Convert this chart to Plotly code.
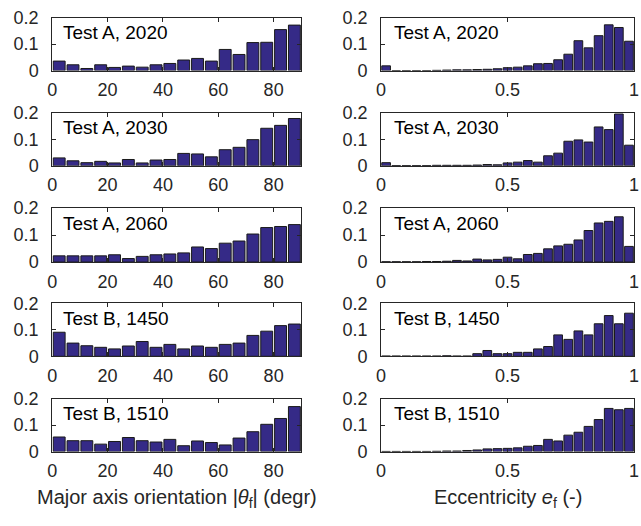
import numpy as np
import plotly.graph_objects as go
from plotly.subplots import make_subplots

# ---------------- data ----------------
panel_labels = ["Test A, 2020", "Test A, 2030", "Test A, 2060", "Test B, 1450", "Test B, 1510"]

orient_bin_edges = np.arange(0, 95, 5)          # 0..90 deg, 18 bins
ecc_bin_edges = np.linspace(0, 1, 26)           # 0..1, 25 bins

orient_a2020 = [0.036, 0.022, 0.008, 0.022, 0.012, 0.017, 0.013, 0.022, 0.027,
                0.040, 0.046, 0.036, 0.080, 0.061, 0.106, 0.107, 0.155, 0.172]
orient_a2030 = [0.030, 0.019, 0.012, 0.017, 0.011, 0.024, 0.011, 0.022, 0.024,
                0.047, 0.045, 0.034, 0.061, 0.070, 0.099, 0.142, 0.153, 0.179]
orient_a2060 = [0.023, 0.023, 0.023, 0.023, 0.027, 0.013, 0.021, 0.027, 0.030,
                0.034, 0.056, 0.050, 0.070, 0.078, 0.104, 0.128, 0.132, 0.139]
orient_b1450 = [0.091, 0.050, 0.040, 0.034, 0.028, 0.039, 0.056, 0.034, 0.045,
                0.028, 0.039, 0.034, 0.045, 0.050, 0.079, 0.095, 0.116, 0.122]
orient_b1510 = [0.055, 0.041, 0.041, 0.028, 0.038, 0.053, 0.041, 0.036, 0.046,
                0.022, 0.040, 0.034, 0.025, 0.051, 0.075, 0.103, 0.125, 0.170]

ecc_a2020 = [0.018, 0.000, 0.000, 0.000, 0.000, 0.001, 0.002, 0.003, 0.003, 0.004,
             0.005, 0.007, 0.011, 0.013, 0.018, 0.026, 0.027, 0.041, 0.062, 0.113,
             0.086, 0.132, 0.173, 0.163, 0.111]
ecc_a2030 = [0.012, 0.001, 0.001, 0.001, 0.001, 0.002, 0.002, 0.002, 0.002, 0.003,
             0.005, 0.004, 0.011, 0.014, 0.020, 0.014, 0.038, 0.048, 0.093, 0.098,
             0.090, 0.147, 0.137, 0.196, 0.078]
ecc_a2060 = [0.001, 0.001, 0.001, 0.001, 0.002, 0.002, 0.003, 0.006, 0.004, 0.011,
             0.008, 0.010, 0.018, 0.012, 0.028, 0.032, 0.049, 0.060, 0.066, 0.082,
             0.117, 0.145, 0.151, 0.168, 0.058]
ecc_b1450 = [0.001, 0.001, 0.001, 0.001, 0.001, 0.001, 0.002, 0.001, 0.001, 0.010,
             0.022, 0.010, 0.010, 0.015, 0.015, 0.028, 0.037, 0.081, 0.064, 0.096,
             0.081, 0.123, 0.154, 0.123, 0.163]
ecc_b1510 = [0.0005, 0.0005, 0.0005, 0.0005, 0.0005, 0.001, 0.002, 0.002, 0.004, 0.006,
             0.010, 0.011, 0.012, 0.014, 0.020, 0.023, 0.046, 0.040, 0.062, 0.073,
             0.095, 0.121, 0.163, 0.158, 0.163]

orient_series = [orient_a2020, orient_a2030, orient_a2060, orient_b1450, orient_b1510]
ecc_series = [ecc_a2020, ecc_a2030, ecc_a2060, ecc_b1450, ecc_b1510]

orient_ticks = [0, 20, 40, 60, 80]
ecc_ticks = [0, 0.5, 1]
ecc_ticktext = ["0", "0.5", "1"]
y_ticks = [0, 0.1, 0.2]
y_ticktext = ["0", "0.1", "0.2"]

left_title = "Major axis orientation |<i>θ</i><sub>f</sub>| (degr)"
right_title = "Eccentricity <i>e</i><sub>f</sub> (-)"

# ---------------- style ----------------
W, H = 641, 526
BAR = "#352a87"
EDGE = "#1a1a1a"
AX = "#262626"
FONT = "Liberation Sans, Arial, Helvetica, sans-serif"
FS_TICK = 18
FS_LABEL = 19
FS_TITLE = 20

left_px = (48, 301)
right_px = (382, 639)
rows_px = [(8, 63), (107, 162), (206, 262), (305, 360), (404, 459)]

fig = make_subplots(rows=5, cols=2)

orient_centers = (orient_bin_edges[:-1] + orient_bin_edges[1:]) / 2
ecc_centers = (ecc_bin_edges[:-1] + ecc_bin_edges[1:]) / 2

for r in range(5):
    fig.add_trace(go.Bar(x=orient_centers, y=orient_series[r],
                         marker=dict(color=BAR, line=dict(color=EDGE, width=1)),
                         showlegend=False), row=r + 1, col=1)
    fig.add_trace(go.Bar(x=ecc_centers, y=ecc_series[r],
                         marker=dict(color=BAR, line=dict(color=EDGE, width=1)),
                         showlegend=False), row=r + 1, col=2)

common = dict(showline=True, linecolor=AX, linewidth=1, mirror="ticks",
              ticks="inside", ticklen=4, tickcolor=AX, tickwidth=1,
              showgrid=False, zeroline=False,
              tickfont=dict(family=FONT, size=FS_TICK, color=AX))

layout = {}
for r in range(5):
    top, bot = rows_px[r]
    ydom = [1 - bot / H, 1 - top / H]
    for c in range(2):
        i = r * 2 + c + 1
        xs = "xaxis" if i == 1 else f"xaxis{i}"
        ys = "yaxis" if i == 1 else f"yaxis{i}"
        px = left_px if c == 0 else right_px
        xd = dict(common, domain=[px[0] / W, px[1] / W], ticklabelstandoff=3)
        if c == 0:
            xd.update(range=[0, 90], tickvals=orient_ticks)
        else:
            xd.update(range=[0, 1], tickvals=ecc_ticks, ticktext=ecc_ticktext,
                      ticklabeloverflow="allow")
        yd = dict(common, domain=ydom, range=[0, 0.2], tickvals=y_ticks,
                  ticktext=y_ticktext, ticklabelstandoff=9)
        layout[xs] = xd
        layout[ys] = yd

annotations = []
for r in range(5):
    for c in range(2):
        i = r * 2 + c + 1
        suffix = "" if i == 1 else str(i)
        annotations.append(dict(
            text=panel_labels[r], xref=f"x{suffix} domain", yref=f"y{suffix} domain",
            x=0.036 if c == 0 else 0.043, y=0.72, xanchor="left", yanchor="middle",
            showarrow=False, font=dict(family=FONT, size=FS_LABEL, color="#000000")))

annotations.append(dict(text=left_title, xref="paper", yref="paper",
                        x=(left_px[0] + left_px[1]) / 2 / W, y=1 - 508 / H,
                        xanchor="center", yanchor="middle", showarrow=False,
                        font=dict(family=FONT, size=FS_TITLE, color=AX)))
annotations.append(dict(text=right_title, xref="paper", yref="paper",
                        x=(right_px[0] + right_px[1]) / 2 / W, y=1 - 508 / H,
                        xanchor="center", yanchor="middle", showarrow=False,
                        font=dict(family=FONT, size=FS_TITLE, color=AX)))

fig.update_layout(**layout)
fig.update_layout(width=W, height=H, margin=dict(l=0, r=0, t=0, b=0),
                  paper_bgcolor="white", plot_bgcolor="white",
                  bargap=0.14, annotations=annotations,
                  font=dict(family=FONT, size=FS_TICK, color=AX))

fig.write_html("out.html", include_plotlyjs=True, full_html=True,
               config={"displayModeBar": False})
